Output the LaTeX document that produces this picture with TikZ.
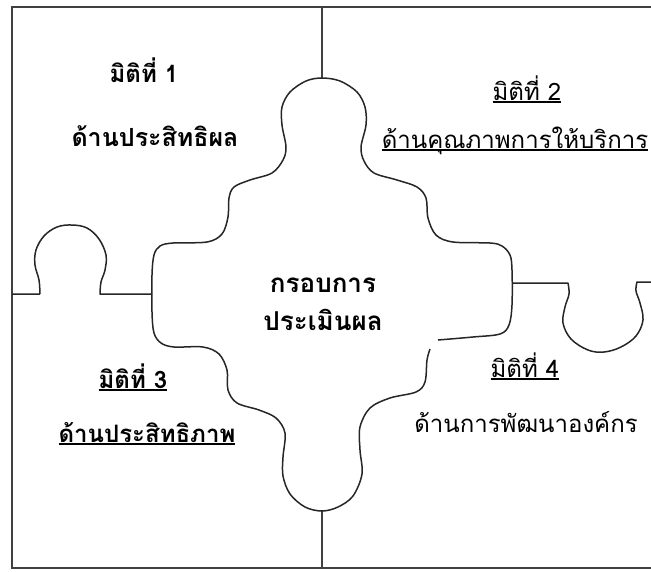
\documentclass[tikz,border=0pt]{standalone}
\usepackage{fontspec}
\newfontfamily\thaifont[Script=Thai]{Loma}
\newcommand\ulthai[1]{\setbox0\hbox{#1}\rlap{\rule[-2.5pt]{\wd0}{1.4pt}}\box0}
\begin{document}
\begin{tikzpicture}[x=1pt,y=-1pt,
  frame/.style={line width=1.8pt,draw=black!75},
  piece/.style={line width=1.5pt,draw=black!85,line join=round},
  side/.style={font=\thaifont\fontsize{24}{28}\selectfont,anchor=base,inner sep=0pt},
  sideb/.style={side,font=\thaifont\bfseries\fontsize{24}{28}\selectfont},
  centre/.style={anchor=base,inner sep=0pt,font=\thaifont\bfseries\fontsize{26}{30}\selectfont}]
\useasboundingbox (0,0) rectangle (651,571);
% outer frame (right side runs off the picture)
\coordinate (ftr) at (653,7);
\coordinate (ftl) at (12,7);
\coordinate (fbl) at (12,568);
\coordinate (fbr) at (653,568);
\draw[frame] (ftr) -- (ftl) -- (fbl) -- (fbr);
% vertical dividers
\coordinate (ttop) at (322,7);
\coordinate (tknob) at (322,78);
\coordinate (bknob) at (322,511);
\coordinate (bbot) at (322,568);
\draw[frame] (ttop) -- (tknob);
\draw[frame] (bknob) -- (bbot);
% left divider with knob
\coordinate (lstart) at (12,294);
\coordinate (lend) at (152,294);
\draw[piece] (lstart) -- (40,294)
  plot[smooth,tension=0.6] coordinates {(40,294) (39,280) (35,265) (36,250) (44,236) (57,227) (72,225) (87,228) (99,239) (106,255) (105,270) (101,282) (100,294)}
  -- (lend);
% right divider with knob
\coordinate (rstart) at (512,283);
\coordinate (rend) at (653,282);
\draw[piece] (rstart) -- (568,283)
  plot[smooth,tension=0.6] coordinates {(568,283) (569,294) (565,307) (563,323) (571,339) (588,350) (604,352) (621,347) (636,336) (643,320) (640,303) (636,291) (637,282)}
  -- (rend);
% central piece
\draw[piece] plot[smooth,tension=0.55] coordinates {
 (438,340) (473,337) (500,334) (509,325) (512,305) (512,270) (510,255) (502,246) (490,243) (453,242)
 (436,235) (428,218) (426,198) (417,187) (397,180) (374,173) (364,161) (361,147) (366,125) (365,107)
 (357,92) (340,81) (322,78) (306,81) (290,92) (282,107) (282,125) (286,147) (283,160) (272,173)
 (250,180) (234,187) (229,198) (228,217) (222,234) (207,242) (173,243) (160,246) (154,255) (152,275)
 (152,312) (154,333) (161,343) (174,347) (203,347) (219,354) (227,370) (228,390) (237,403) (259,410)
 (276,418) (285,433) (283,457) (283,476) (290,494) (305,507) (322,511) (338,507) (353,496) (362,474)
 (360,450) (360,427) (370,408) (390,398) (416,392) (425,382) (427,360) (430,349)};
% texts
\node[sideb] (d1) at (144,82) {มิติที่ 1};
\node[sideb,font=\thaifont\bfseries\fontsize{25}{29}\selectfont] (t1) at (155,146) {ด้านประสิทธิผล};
\node[side] (d2) at (527,100) {\ulthai{มิติที่ 2}};
\node[side] (t2) at (515,148) {\ulthai{ด้านคุณภาพการให้บริการ}};
\node[sideb] (d3) at (133,388) {\ulthai{มิติที่ 3}};
\node[sideb] (t3) at (147,442) {\ulthai{ด้านประสิทธิภาพ}};
\node[side] (d4) at (525,377) {\ulthai{มิติที่ 4}};
\node[side] (t4) at (526,432) {ด้านการพัฒนาองค์กร};
\node[centre] (c1) at (323,292) {กรอบการ};
\node[centre] (c2) at (323,330) {ประเมินผล};
\end{tikzpicture}
\end{document}
